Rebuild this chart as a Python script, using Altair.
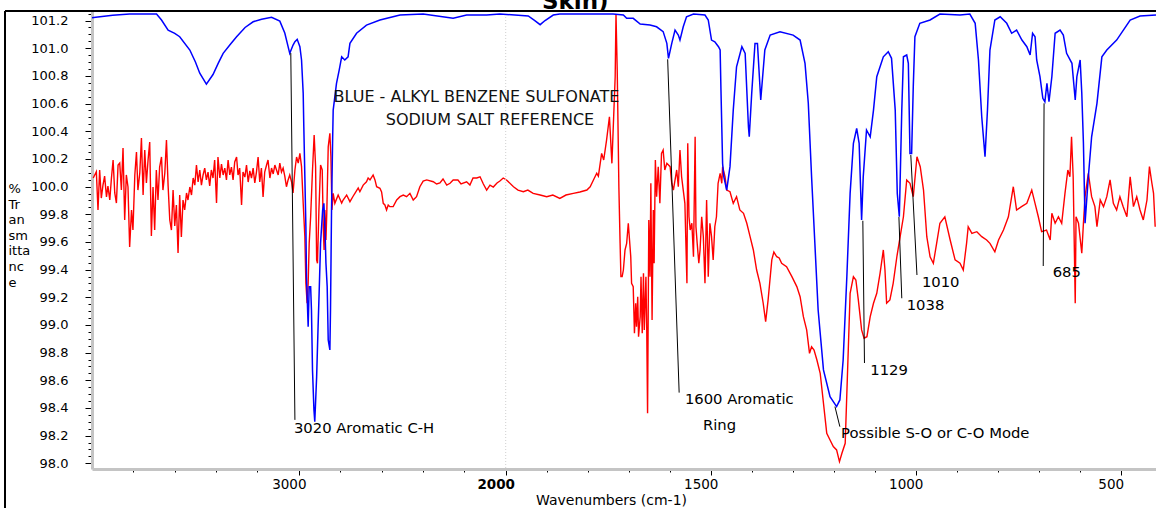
import altair as alt
import pandas as pd

FONT = "DejaVu Sans"

# Reference spectrum (blue): alkyl benzene sulfonate sodium salt
blue_wn = [4000, 3982, 3900, 3818, 3688, 3664, 3632, 3600, 3576, 3527, 3500, 3479, 3447, 3415, 3390,
           3366, 3330, 3301, 3260, 3221, 3180, 3132, 3092, 3068, 3044, 3028, 3019, 3008, 2995, 2987,
           2979, 2976, 2971, 2966, 2963, 2955, 2950, 2943, 2939, 2934, 2927, 2923, 2914, 2907, 2902,
           2895, 2885, 2879, 2874, 2869, 2863, 2858, 2850, 2847, 2842, 2837, 2834, 2818, 2805, 2793,
           2778, 2762, 2753, 2721, 2673, 2608, 2511, 2399, 2254, 2189, 2092, 2028, 1945, 1929, 1916,
           1904, 1884, 1868, 1770, 1738, 1713, 1705, 1689, 1672, 1648, 1632, 1616, 1607, 1603, 1595,
           1587, 1579, 1575, 1567, 1559, 1542, 1514, 1506, 1498, 1490, 1481, 1477, 1475, 1471, 1468,
           1461, 1453, 1445, 1437, 1424, 1416, 1408, 1406, 1400, 1392, 1386, 1378, 1368, 1355, 1331,
           1299, 1282, 1270, 1262, 1254, 1246, 1238, 1225, 1209, 1193, 1185, 1177, 1168, 1160, 1152,
           1144, 1138, 1132, 1128, 1120, 1111, 1103, 1095, 1079, 1067, 1059, 1050, 1045, 1040, 1034,
           1030, 1022, 1018, 1014, 1010, 1006, 1002, 990, 965, 941, 892, 868, 855, 847, 839,
           831, 825, 819, 807, 794, 778, 766, 754, 741, 729, 721, 715, 709, 705, 697,
           690, 685, 680, 675, 668, 660, 648, 640, 632, 619, 611, 607, 599, 595, 591,
           587, 583, 579, 571, 558, 546, 534, 510, 477, 453, 414]
blue_t = [101.22, 101.223, 101.238, 101.247, 101.247, 101.204, 101.131, 101.108, 101.083, 100.987, 100.9, 100.819, 100.741, 100.81, 100.89,
          100.963, 101.03, 101.083, 101.15, 101.191, 101.21, 101.223, 101.196, 101.11, 100.963, 101.023, 101.047, 101.064, 101.011, 100.915,
          100.674, 100.433, 100.071, 99.71, 99.349, 98.988, 99.277, 99.277, 99.108, 98.675, 98.386, 98.301, 98.626, 98.988, 99.229,
          99.59, 99.831, 99.879, 99.71, 99.446, 99.277, 98.892, 98.819, 99.108, 99.831, 100.313, 100.553, 100.746, 100.842, 100.938,
          100.915, 100.938, 101.035, 101.108, 101.167, 101.204, 101.24, 101.247, 101.216, 101.24, 101.24, 101.247, 101.233, 101.2, 101.17,
          101.2, 101.24, 101.247, 101.247, 101.247, 101.24, 101.216, 101.216, 101.175, 101.168, 101.155, 101.12, 101.035, 100.927, 101.035,
          101.131, 101.095, 101.059, 101.155, 101.227, 101.247, 101.24, 101.204, 101.059, 101.047, 101.011, 100.987, 100.698, 100.168, 100.071,
          99.975, 100.144, 100.553, 100.866, 101.011, 100.963, 100.433, 100.36, 100.674, 101.035, 101.035, 100.626, 100.987, 101.095, 101.119,
          101.095, 101.059, 100.89, 100.602, 100.071, 99.59, 99.108, 98.675, 98.482, 98.41, 98.458, 98.747, 99.349, 99.951, 100.313,
          100.42, 100.313, 99.759, 100.071, 100.409, 100.36, 100.553, 100.794, 100.938, 100.975, 100.927, 100.553, 99.951, 99.782, 100.553,
          100.938, 100.951, 100.891, 100.24, 100.24, 100.722, 101.083, 101.18, 101.204, 101.247, 101.24, 101.247, 101.18, 100.915, 100.505,
          100.216, 100.553, 100.987, 101.204, 101.227, 101.18, 101.108, 101.131, 101.059, 101.011, 100.951, 101.108, 101.083, 100.915, 100.794,
          100.638, 100.613, 100.746, 100.613, 100.794, 101.108, 101.131, 101.095, 100.963, 100.891, 100.626, 100.794, 100.915, 100.674, 100.313,
          99.735, 99.903, 100.071, 100.36, 100.602, 100.938, 100.987, 101.059, 101.204, 101.233, 101.24]

# Sample spectrum (red)
red_wn = [3994, 3979, 3971, 3963, 3955, 3947, 3939, 3930, 3923, 3914, 3906, 3898, 3890, 3882, 3874,
          3866, 3858, 3850, 3842, 3834, 3826, 3818, 3809, 3802, 3793, 3785, 3778, 3769, 3761, 3753,
          3745, 3737, 3729, 3721, 3713, 3705, 3697, 3689, 3681, 3673, 3664, 3657, 3648, 3640, 3632,
          3624, 3616, 3608, 3600, 3592, 3584, 3576, 3568, 3560, 3552, 3543, 3536, 3527, 3519, 3511,
          3503, 3495, 3487, 3479, 3471, 3463, 3455, 3447, 3439, 3431, 3423, 3415, 3407, 3398, 3391,
          3382, 3374, 3366, 3358, 3350, 3342, 3334, 3326, 3318, 3310, 3301, 3294, 3286, 3277, 3270,
          3261, 3253, 3245, 3237, 3229, 3221, 3213, 3205, 3197, 3189, 3181, 3173, 3165, 3156, 3149,
          3140, 3132, 3124, 3116, 3108, 3100, 3092, 3084, 3076, 3068, 3060, 3052, 3044, 3035, 3028,
          3019, 3011, 3003,
          2995, 2987, 2979, 2971, 2966, 2960, 2955, 2950, 2943, 2934, 2926, 2919, 2914, 2910, 2903,
          2895, 2887, 2882, 2878, 2874, 2869, 2865, 2858, 2850, 2845, 2840, 2834, 2826, 2810, 2793,
          2786, 2769, 2753, 2737, 2729, 2713, 2705, 2689, 2673, 2665, 2656, 2641, 2632, 2624, 2608,
          2600, 2592, 2584, 2576, 2568, 2560, 2544, 2527, 2511, 2495, 2479, 2463, 2447, 2431, 2415,
          2399, 2382, 2350, 2334, 2318, 2303, 2285, 2269, 2254, 2231, 2216, 2189, 2173, 2158, 2140,
          2124, 2108, 2092, 2076, 2060, 2042, 2028, 2012, 1998,
          1981, 1970, 1957, 1946, 1933, 1916, 1900, 1885, 1868, 1853, 1835, 1819, 1802, 1794, 1786,
          1778, 1774, 1766, 1761, 1754, 1747, 1741, 1737, 1733, 1731, 1728, 1724, 1721, 1719, 1716,
          1713, 1709, 1705, 1701, 1698, 1695, 1693, 1689, 1686, 1683, 1681, 1678, 1676, 1672, 1670,
          1667, 1664, 1662, 1658, 1656, 1654, 1651, 1648, 1646, 1643, 1640, 1638, 1635, 1632, 1628,
          1624, 1620, 1616, 1612, 1607, 1599, 1595, 1591, 1583, 1579, 1575, 1571, 1567, 1563, 1558,
          1556, 1553, 1550, 1546, 1542, 1538, 1536, 1533, 1529, 1526, 1522, 1518, 1514, 1510, 1506,
          1502, 1498, 1494, 1490, 1486, 1482, 1477, 1473, 1471, 1465, 1461, 1453, 1445, 1437, 1429,
          1420, 1412, 1404, 1396, 1388, 1380, 1372, 1366, 1360, 1351, 1346, 1339, 1333, 1327, 1315,
          1302, 1290, 1282, 1274, 1266, 1259, 1254, 1248, 1241, 1233, 1225, 1217, 1209, 1201, 1193,
          1186, 1180, 1172, 1168, 1164, 1160, 1152, 1146, 1140, 1132, 1126, 1119, 1111, 1103, 1095,
          1087, 1079, 1075, 1071, 1063, 1055, 1046, 1038, 1030, 1022, 1014, 1006, 997, 989, 981,
          973, 965, 957, 949, 941, 929, 916, 904, 892, 884, 876, 872, 863, 851, 839,
          827, 819, 807, 798, 786, 774, 762, 754, 742, 729, 717, 709, 701, 693, 681,
          672, 668, 660, 652, 644, 636, 629, 624, 620, 616, 611, 609, 603, 595, 591,
          587, 579, 571, 563, 558, 550, 542, 534, 526, 518, 510, 502, 494, 485, 477,
          469, 461, 453, 445, 436, 430, 424, 420, 416]
red_t = [100.062, 100.107, 99.831, 100.12, 99.917, 100.011, 100.076, 99.925, 100.004, 99.903, 100.062, 100.192, 99.954, 99.881, 100.156,
         100.17, 99.975, 100.279, 99.759, 100.084, 99.997, 99.563, 99.831, 99.686, 100.084, 100.25, 99.975, 100.098, 100.351, 99.939,
         100.264, 100.026, 100.192, 100.322, 99.643, 99.997, 99.686, 100.12, 99.903, 100.141, 100.214, 99.975, 100.098, 100.336, 100.004,
         99.759, 99.686, 99.975, 99.715, 99.867, 99.52, 99.939, 99.636, 99.903, 99.831, 99.954, 99.903, 99.997, 99.939, 100.062,
         100.011, 100.156, 100.033, 100.12, 100.011, 100.084, 100.134, 100.048, 100.105, 100.004, 100.12, 100.062, 100.192, 99.881, 100.214,
         100.062, 100.163, 100.084, 100.134, 100.048, 100.192, 100.084, 100.141, 100.048, 100.178, 100.214, 100.084, 100.134, 99.867, 100.105,
         100.069, 100.156, 100.033, 100.113, 100.062, 100.134, 100.026, 100.105, 100.214, 100.033, 100.134, 99.925, 100.105, 100.156, 100.192,
         100.062, 100.134, 100.091, 100.156, 100.12, 100.084, 100.17, 100.105, 100.134, 100.076, 99.999, 100.048, 100.084, 100.033, 99.954,
         100.12, 100.214, 100.17,
         100.24, 100.144, 99.879, 99.638, 99.301, 99.157, 99.301, 99.59, 99.782, 100.12, 100.373, 100.144, 99.47, 99.446, 99.831,
         100.156, 100.12, 99.71, 99.542, 99.831, 99.614, 99.807, 100.288, 100.385, 100.216, 99.831, 99.951, 99.879, 99.939, 99.881,
         99.903, 99.939, 99.891, 99.932, 99.951, 99.99, 99.963, 100.011, 100.035, 100.062, 100.048, 100.084, 100.048, 99.999, 99.988,
         99.961, 99.879, 99.867, 99.831, 99.867, 99.855, 99.855, 99.903, 99.927, 99.939, 99.927, 99.951, 99.903, 99.927, 99.999,
         100.04, 100.048, 100.035, 100.019, 100.026, 100.055, 100.011, 100.024, 100.048, 100.048, 100.019, 100.035, 100.011, 100.062, 100.062,
         100.071, 100.019, 99.975, 100.011, 99.997, 100.026, 100.04, 100.062, 100.048,
         99.999, 99.975, 99.963, 99.975, 99.951, 99.939, 99.927, 99.939, 99.915, 99.939, 99.951, 99.961, 99.975, 99.999, 100.048,
         100.096, 100.076, 100.24, 100.192, 100.336, 100.505, 100.168, 100.481, 100.794, 101.247, 100.842, 99.999, 99.59, 99.349, 99.349,
         99.397, 99.542, 99.59, 99.735, 99.614, 99.493, 99.301, 99.277, 98.94, 99.157, 98.988, 99.204, 98.915, 99.06, 99.349,
         98.94, 99.373, 98.964, 99.349, 98.964, 98.362, 99.759, 99.349, 100.024, 99.036, 99.831, 99.446, 100.192, 99.927, 100.144,
         99.879, 100.24, 100.264, 100.12, 100.168, 100.144, 100.024, 99.975, 100.12, 99.999, 100.264, 100.071, 99.975, 99.879, 99.301,
         100.313, 99.782, 99.686, 99.735, 99.493, 100.36, 99.71, 99.59, 99.446, 99.542, 99.782, 99.638, 99.301, 99.903, 99.349,
         99.735, 99.638, 99.47, 99.71, 99.782, 100.024, 100.096, 100.024, 100.144, 100.071, 99.975, 99.963, 99.879, 99.927, 99.831,
         99.807, 99.735, 99.638, 99.542, 99.397, 99.301, 99.157, 99.024, 99.181, 99.47, 99.527, 99.493, 99.484, 99.446, 99.421,
         99.349, 99.277, 99.204, 99.06, 98.964, 98.795, 98.843, 98.819, 98.747, 98.651, 98.434, 98.217, 98.169, 98.121, 98.097,
         98.012, 98.073, 98.145, 98.506, 98.868, 99.229, 99.349, 99.325, 99.181, 98.964, 98.904, 98.915, 99.06, 99.157, 99.229,
         99.373, 99.542, 99.397, 99.157, 99.181, 99.301, 99.493, 99.638, 99.782, 100.048, 100.024, 99.927, 100.216, 100.144, 99.975,
         99.638, 99.493, 99.446, 99.59, 99.735, 99.782, 99.614, 99.47, 99.446, 99.397, 99.59, 99.71, 99.662, 99.674, 99.638,
         99.614, 99.59, 99.529, 99.614, 99.686, 99.782, 99.999, 99.831, 99.855, 99.879, 99.975, 99.879, 99.782, 99.674, 99.686,
         99.614, 99.807, 99.735, 99.782, 99.735, 99.951, 100.12, 100.071, 100.36, 100.071, 99.157, 99.782, 99.735, 99.518, 99.735,
         99.927, 100.096, 99.927, 99.855, 99.71, 99.903, 99.855, 99.927, 100.048, 99.879, 99.831, 99.927, 99.855, 99.782, 100.071,
         99.855, 99.927, 99.831, 99.759, 99.903, 100.144, 100.024, 99.951, 99.71]

# Axis ticks and labels
x_ticks = [3800, 3600, 3400, 3200, 3000, 2800, 2600, 2400, 2200, 2000,
           1900, 1800, 1700, 1600, 1500, 1400, 1300, 1200, 1100, 1000,
           900, 800, 700, 600, 500]
x_labelled = [3000, 2000, 1500, 1000, 500]
y_ticks = [round(98.0 + 0.05 * i, 2) for i in range(66)]

# Peak annotations
note_text = ["3020 Aromatic C-H", "1600 Aromatic", "Ring", "Possible S-O or C-O Mode",
             "1129", "1038", "1010", "685"]
note_wn = [3024, 1563, 1519, 1182, 1111, 1022, 985, 666]
note_t = [98.249, 98.458, 98.270, 98.212, 98.668, 99.137, 99.306, 99.373]

lead_wn_top = [3039, 1605, 1197, 1129, 1041, 1012, 687]
lead_t_top = [100.965, 100.92, 98.41, 99.753, 99.78, 100.228, 100.602]
lead_wn_end = [3019, 1577, 1185, 1125, 1034, 997, 689]
lead_t_end = [98.314, 98.511, 98.265, 98.725, 99.193, 99.361, 99.426]

legend_text = ["BLUE - ALKYL BENZENE SULFONATE", "SODIUM SALT REFERENCE"]
legend_wn = [2141, 2076]
legend_t = [100.649, 100.481]

blue_df = pd.DataFrame({"wn": blue_wn, "t": blue_t})
red_df = pd.DataFrame({"wn": red_wn, "t": red_t})
notes_df = pd.DataFrame({"wn": note_wn, "t": note_t, "label": note_text})
leads_df = pd.DataFrame({"wn": lead_wn_top, "t": lead_t_top, "wn2": lead_wn_end, "t2": lead_t_end})
legend_df = pd.DataFrame({"wn": legend_wn, "t": legend_t, "label": legend_text})

W, H = 1064, 458
# wavenumber axis is expanded 2x below 2000 cm-1
xscale = alt.Scale(domain=[4000, 2000, 414], range=[0, 413.7, W], nice=False, zero=False)
yscale = alt.Scale(domain=[97.959, 101.269], nice=False, zero=False)

lab_test = "indexof([3000,2000,1500,1000,500], datum.value) >= 0"
x_axis = alt.Axis(
    values=x_ticks, format="d", grid=False,
    labelExpr=f"{lab_test} ? datum.label : ''",
    labelFont=FONT, labelFontSize=13.5, labelColor="black", labelPadding=2,
    labelOffset=-10, labelOverlap=False, labelFlush=False,
    labelFontWeight={"condition": {"test": "datum.value == 2000", "value": "bold"}, "value": "normal"},
    tickColor="black", tickWidth=1,
    tickSize={"condition": {"test": lab_test, "value": 6}, "value": 3},
    domainColor="#c4c4c4", domainWidth=3,
    title="Wavenumbers (cm-1)", titleFont=FONT, titleFontSize=14, titleFontWeight="normal",
    titleColor="black", titleX=519, titleY=31, titleAlign="center", titleBaseline="middle",
)
y_major = "abs(datum.value * 5 - round(datum.value * 5)) < 0.001"
y_axis = alt.Axis(
    values=y_ticks, grid=False,
    labelExpr=f"{y_major} ? format(datum.value, '.1f') : ''",
    labelFont=FONT, labelFontSize=13, labelColor="black", labelPadding=17,
    labelOverlap=False, labelFlush=False,
    tickColor="black", tickWidth=1,
    tickSize={"condition": {"test": y_major, "value": 7}, "value": 4},
    domainColor="#c4c4c4", domainWidth=3,
    title=["%", "Tr", "an", "sm", "itta", "nc", "e"], titleFont=FONT, titleFontSize=13,
    titleFontWeight="normal", titleColor="black", titleAngle=0, titleAlign="left",
    titleBaseline="alphabetic", titleX=-84, titleY=181.5, titleLineHeight=15.6,
)

# every layer shares the same encodings so the axes merge into one pair
X = alt.X("wn:Q", scale=xscale, axis=x_axis)
Y = alt.Y("t:Q", scale=yscale, axis=y_axis)

red = alt.Chart(red_df).mark_line(color="#ff0000", strokeWidth=1.4, clip=True).encode(x=X, y=Y)
blue = alt.Chart(blue_df).mark_line(color="#0000ff", strokeWidth=1.5, clip=True).encode(x=X, y=Y)

grid2000 = alt.Chart(pd.DataFrame({"wn": [2000]})).mark_rule(
    color="#cfcfcf", strokeDash=[1, 2], strokeWidth=1
).encode(x=X, y=alt.value(0), y2=alt.value(H))

leads = alt.Chart(leads_df).mark_rule(color="black", strokeWidth=1).encode(
    x=X, y=Y, x2="wn2:Q", y2="t2:Q")
notes = alt.Chart(notes_df).mark_text(
    align="left", baseline="middle", font=FONT, fontSize=14.8, color="black"
).encode(x=X, y=Y, text="label:N")
legend = alt.Chart(legend_df).mark_text(
    align="center", baseline="middle", font=FONT, fontSize=16, color="#111111"
).encode(x=X, y=Y, text="label:N")

# frame of the figure and the last line of its title
frame_top = alt.Chart(pd.DataFrame({"k": [0]})).mark_rule(color="black", strokeWidth=2).encode(
    x=alt.value(-87), x2=alt.value(W + 5), y=alt.value(0))
frame_left = alt.Chart(pd.DataFrame({"k": [0]})).mark_rule(color="black", strokeWidth=2).encode(
    x=alt.value(-87), y=alt.value(0), y2=alt.value(H + 45))
title_tail = alt.Chart(pd.DataFrame({"label": ["Skin)"]})).mark_text(
    align="left", baseline="alphabetic", font=FONT, fontSize=23, fontWeight="bold", color="black"
).encode(x=alt.value(450), y=alt.value(-2.5), text="label:N")

chart = alt.layer(
    red, grid2000, blue, leads, notes, legend, frame_top, frame_left, title_tail
).properties(
    width=W, height=H,
    padding={"left": 92, "top": 11, "right": 0, "bottom": 39},
    autosize="none",
    background="white",
).configure_view(stroke=None)

chart.save("out.html", embed_options={"renderer": "svg", "actions": False})
